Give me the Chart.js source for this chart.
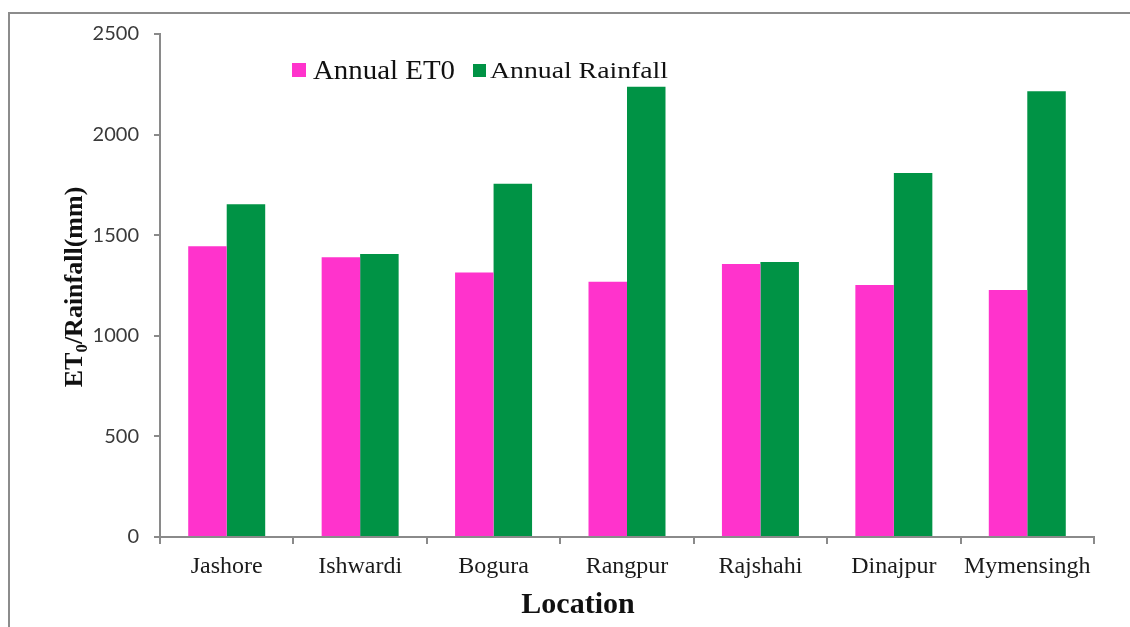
<!DOCTYPE html>
<html>
<head>
<meta charset="utf-8">
<title>Annual ET0 and Rainfall by Location</title>
<script src="https://cdn.jsdelivr.net/npm/chart.js@4.4.1/dist/chart.umd.min.js"></script>
<style>
  html, body { margin: 0; padding: 0; background: #fff; }
  #page { position: relative; width: 1130px; height: 627px; overflow: hidden; background: #fff; }
  #frame { position: absolute; left: 8px; top: 12px; width: 1400px; height: 900px;
           border-left: 2px solid #8c8c8c; border-top: 2px solid #8c8c8c; }
  #wrap { position: absolute; left: 0; top: 0; width: 1130px; height: 627px; }
</style>
</head>
<body>
<div id="page">
  <div id="frame"></div>
  <div id="wrap"><canvas id="etChart"></canvas></div>
</div>
<script>
const LOCATIONS = ['Jashore', 'Ishwardi', 'Bogura', 'Rangpur', 'Rajshahi', 'Dinajpur', 'Mymensingh'];
const ANNUAL_ET0 = [1445, 1390, 1314, 1269, 1357, 1252, 1228];
const ANNUAL_RAINFALL = [1654, 1407, 1756, 2238, 1367, 1809, 2215];
const Y_TICKS = [0, 500, 1000, 1500, 2000, 2500];

const PINK = '#ff33cc';
const GREEN = '#009345';
const AXIS_GREY = '#8a8a8a';
const SERIF = '"Liberation Serif", "Times New Roman", serif';

// text squeezed/stretched horizontally to a set width
function fitText(ctx, text, x, y, width) {
  const w = ctx.measureText(text).width;
  ctx.save();
  ctx.translate(x, y);
  ctx.scale(width / w, 1);
  ctx.fillText(text, 0, 0);
  ctx.restore();
}

// legend and axis titles (the y title needs a subscript 0)
const decorations = {
  id: 'decorations',
  afterDraw(chart) {
    const ctx = chart.ctx;
    const ds = chart.data.datasets;
    ctx.save();
    ctx.fillStyle = '#111';
    ctx.textBaseline = 'alphabetic';

    // legend
    ctx.fillStyle = ds[0].backgroundColor;
    ctx.fillRect(292, 63, 14, 14);
    ctx.fillStyle = '#111';
    ctx.font = '27px ' + SERIF;
    fitText(ctx, ds[0].label, 313, 79, 142);

    ctx.fillStyle = ds[1].backgroundColor;
    ctx.fillRect(473, 64, 13, 13);
    ctx.fillStyle = '#111';
    ctx.font = '24px ' + SERIF;
    fitText(ctx, ds[1].label, 490, 78, 178);

    // x title
    const area = chart.chartArea;
    ctx.font = 'bold 30px ' + SERIF;
    ctx.textAlign = 'center';
    ctx.fillText('Location', (area.left + area.right) / 2 - 49, 613);

    // y title, rotated, with subscript
    ctx.translate(82, 287);
    ctx.rotate(-Math.PI / 2);
    ctx.textAlign = 'left';
    const big = 'bold 26px ' + SERIF;
    const small = 'bold 17px ' + SERIF;
    ctx.font = big;
    const wET = ctx.measureText('ET').width;
    const rest = '/Rainfall(mm)';
    const wRest = ctx.measureText(rest).width;
    ctx.font = small;
    const wSub = ctx.measureText('0').width;
    let x = -(wET + wSub + wRest) / 2;
    ctx.font = big;
    ctx.fillText('ET', x, 0);
    x += wET;
    ctx.font = small;
    ctx.fillText('0', x, 5);
    x += wSub;
    ctx.font = big;
    ctx.fillText(rest, x, 0);
    ctx.restore();
  }
};

new Chart(document.getElementById('etChart'), {
  type: 'bar',
  data: {
    labels: LOCATIONS,
    datasets: [
      { label: 'Annual ET0', data: ANNUAL_ET0, backgroundColor: PINK },
      { label: 'Annual Rainfall', data: ANNUAL_RAINFALL, backgroundColor: GREEN }
    ]
  },
  options: {
    responsive: true,
    maintainAspectRatio: false,
    animation: false,
    devicePixelRatio: 1,
    layout: { padding: { left: 0, right: 36, top: 34, bottom: 0 } },
    datasets: { bar: { categoryPercentage: 0.577, barPercentage: 1.0, borderWidth: 0 } },
    plugins: {
      legend: { display: false },
      tooltip: { enabled: false }
    },
    scales: {
      x: {
        grid: { display: true, drawOnChartArea: false, drawTicks: true, tickLength: 7, color: AXIS_GREY, lineWidth: 2, offset: true },
        border: { display: true, color: AXIS_GREY, width: 2 },
        ticks: { color: '#1a1a1a', font: { family: SERIF, size: 24 }, padding: 8, maxRotation: 0, autoSkip: false },
        afterFit(scale) { scale.height = 90; }
      },
      y: {
        min: 0,
        max: 2500,
        afterBuildTicks(scale) { scale.ticks = Y_TICKS.map(v => ({ value: v })); },
        grid: { display: true, drawOnChartArea: false, drawTicks: true, tickLength: 6, color: AXIS_GREY, lineWidth: 2 },
        border: { display: true, color: AXIS_GREY, width: 2 },
        ticks: {
          color: '#3a3a3a',
          font: { family: 'Lato, "Liberation Sans", sans-serif', size: 20 },
          padding: 15,
          callback: v => String(v)
        },
        afterFit(scale) { scale.width = 160; }
      }
    }
  },
  plugins: [decorations]
});
</script>
</body>
</html>
